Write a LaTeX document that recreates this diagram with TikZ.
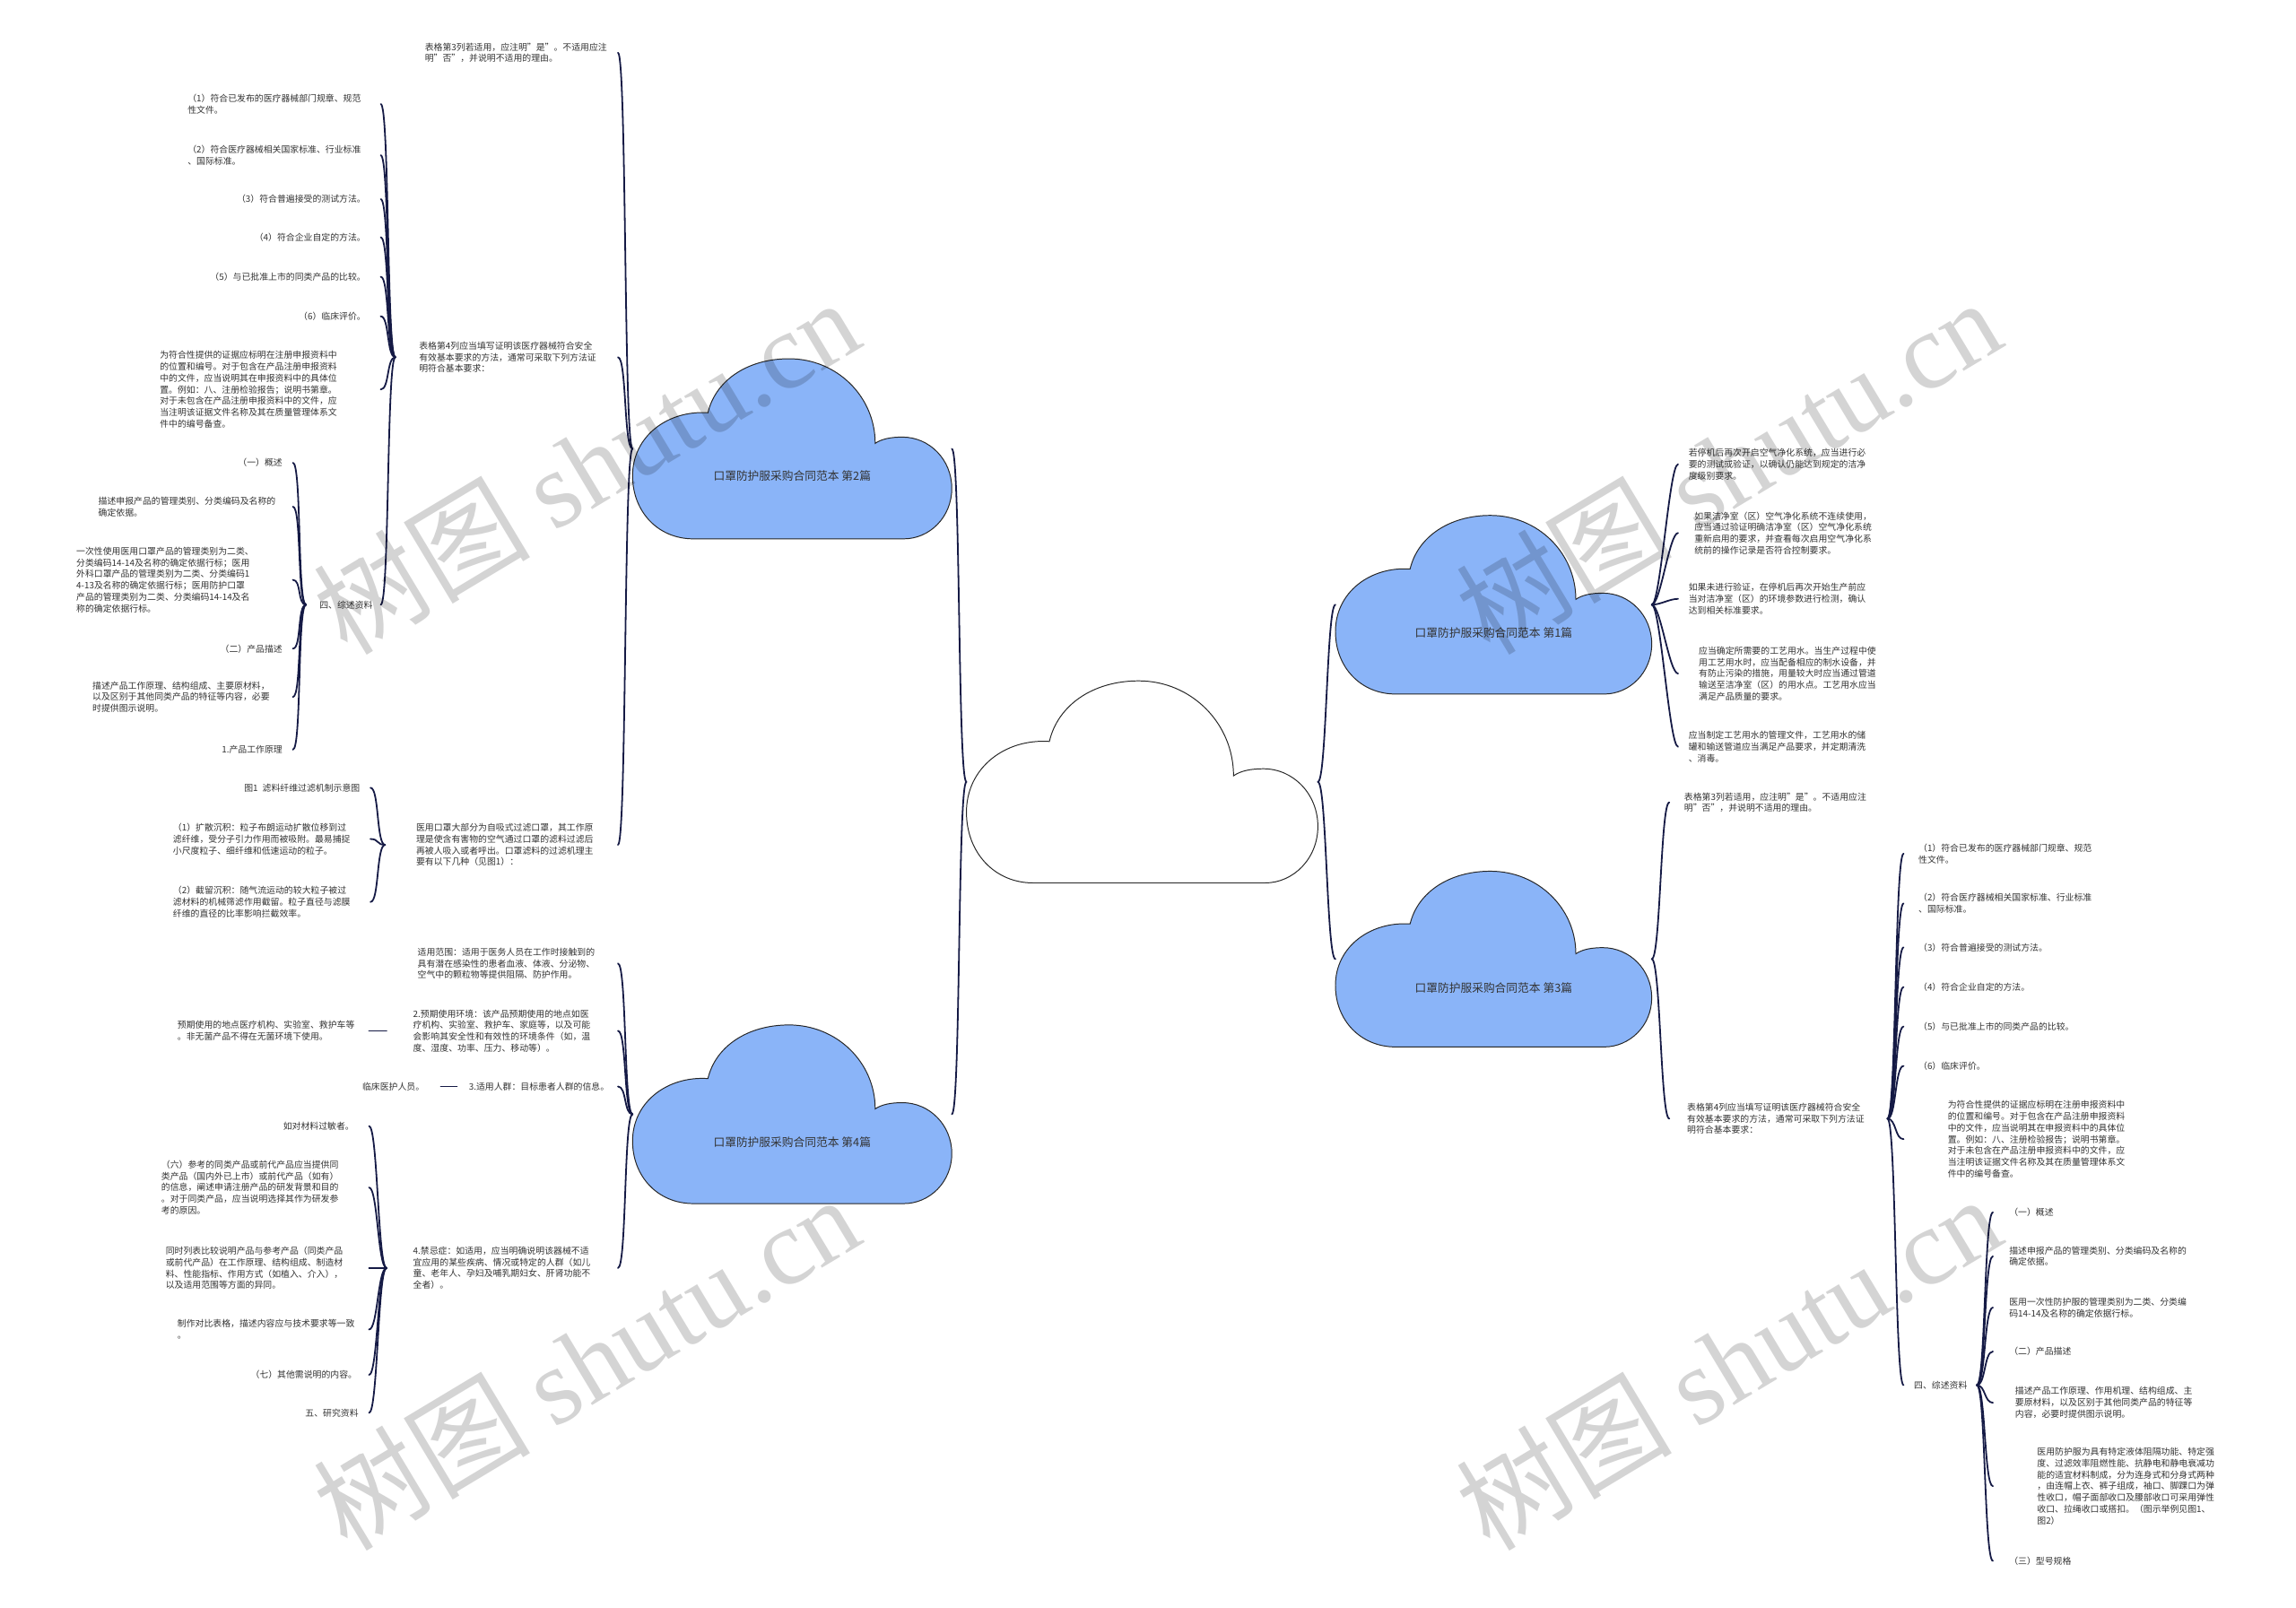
\documentclass[tikz,border=0pt]{standalone}
\usepackage{fontspec}
\setmainfont{Noto Sans CJK SC}
\newfontfamily\wmlatin{Liberation Serif}
\usetikzlibrary{calc}
\definecolor{txtc}{HTML}{333333}
\definecolor{connc}{HTML}{151A45}
\definecolor{cloudfill}{RGB}{138,180,248}
\newcommand\tfont{\fontsize{6.05pt}{7.8pt}\selectfont}
\newcommand\cfont{\fontsize{7.8pt}{9pt}\selectfont}
\newcommand\mycloud[5]{%
 \begin{scope}[shift={(#1,#2)}, x=#3pt, y=-#4pt]
  \draw[cloudline, fill=#5] (0.19,1) .. controls (0.08,1) and (0,0.85) .. (0,0.65)
   .. controls (0,0.43) and (0.11,0.285) .. (0.236,0.30)
   .. controls (0.26,0.12) and (0.36,0) .. (0.49,0)
   .. controls (0.64,0) and (0.76,0.21) .. (0.76,0.47)
   .. controls (0.78,0.445) and (0.81,0.435) .. (0.845,0.435)
   .. controls (0.93,0.435) and (1,0.56) .. (1,0.72)
   .. controls (1,0.88) and (0.93,1) .. (0.85,1) -- cycle;
 \end{scope}}
\newcommand\linkL[3]{\draw[conn] (#1) .. controls +(-6,0) and +(6,0) .. (#2 -| #3);}
\newcommand\linkR[3]{\draw[conn] (#1) .. controls +(6,0) and +(-6,0) .. (#2 -| #3);}
\begin{document}
\begin{tikzpicture}[x=1pt,y=-1pt,
  txt/.style={inner sep=0pt, align=left, font=\tfont, text=txtc},
  conn/.style={draw=connc, line width=1.1pt, line cap=round},
  cloudline/.style={draw=black!85, line width=0.6pt},
  cloudbox/.style={inner sep=0pt, outer sep=0pt, draw=none, anchor=north west},
  clabel/.style={inner sep=0pt, font=\cfont, text=txtc},
  wm/.style={inner sep=0pt, rotate=31, text=black, text opacity=0.17, font=\fontsize{74pt}{74pt}\selectfont}]
\fill[white] (0,0) rectangle (1568,1098);
\useasboundingbox (0,0) rectangle (1568,1098);

% cloud boxes
\node[cloudbox, minimum width=240pt, minimum height=138pt] (c0) at (660,465) {};
\node[cloudbox, minimum width=216pt, minimum height=122pt] (c1) at (912,352) {};
\node[cloudbox, minimum width=218pt, minimum height=123pt] (c2) at (432,245) {};
\node[cloudbox, minimum width=216pt, minimum height=120pt] (c3) at (912,595) {};
\node[cloudbox, minimum width=218pt, minimum height=122pt] (c4) at (432,700) {};

% ---------- cloud 2 branch ----------
\node[txt, anchor=west] (n2a) at (290,36) {表格第3列若适用，应注明"是"。不适用应注\\明"否"，并说明不适用的理由。};
\node[txt, anchor=west] (n2b) at (286,244) {表格第4列应当填写证明该医疗器械符合安全\\有效基本要求的方法，通常可采取下列方法证\\明符合基本要求：};
\node[txt, anchor=west] (n2b1) at (128,71) {（1）符合已发布的医疗器械部门规章、规范\\性文件。};
\node[txt, anchor=west] (n2b2) at (128,106) {（2）符合医疗器械相关国家标准、行业标准\\、国际标准。};
\node[txt, anchor=east] (n2b3) at (250,136) {（3）符合普遍接受的测试方法。};
\node[txt, anchor=east] (n2b4) at (250,162) {（4）符合企业自定的方法。};
\node[txt, anchor=east] (n2b5) at (250,189) {（5）与已批准上市的同类产品的比较。};
\node[txt, anchor=east] (n2b6) at (250,216) {（6）临床评价。};
\node[txt, anchor=west] (n2b7) at (109,266) {为符合性提供的证据应标明在注册申报资料中\\的位置和编号。对于包含在产品注册申报资料\\中的文件，应当说明其在申报资料中的具体位\\置。例如：八、注册检验报告；说明书第章。\\对于未包含在产品注册申报资料中的文件，应\\当注明该证据文件名称及其在质量管理体系文\\件中的编号备查。};
\node[txt, anchor=west] (n2b8) at (218,413) {四、综述资料};
\node[txt, anchor=east] (n2c1) at (193,316) {（一）概述};
\node[txt, anchor=west] (n2c2) at (67,346) {描述申报产品的管理类别、分类编码及名称的\\确定依据。};
\node[txt, anchor=west] (n2c3) at (52,396) {一次性使用医用口罩产品的管理类别为二类、\\分类编码14-14及名称的确定依据行标；医用\\外科口罩产品的管理类别为二类、分类编码1\\4-13及名称的确定依据行标；医用防护口罩\\产品的管理类别为二类、分类编码14-14及名\\称的确定依据行标。};
\node[txt, anchor=east] (n2c4) at (193,443) {（二）产品描述};
\node[txt, anchor=west] (n2c5) at (63,476) {描述产品工作原理、结构组成、主要原材料，\\以及区别于其他同类产品的特征等内容，必要\\时提供图示说明。};
\node[txt, anchor=east] (n2c6) at (193,512) {1.产品工作原理};
\node[txt, anchor=west] (n2d) at (284,577) {医用口罩大部分为自吸式过滤口罩，其工作原\\理是使含有害物的空气通过口罩的滤料过滤后\\再被人吸入或者呼出。口罩滤料的过滤机理主\\要有以下几种（见图1）：};
\node[txt, anchor=east] (n2d1) at (246,538) {图1\enspace 滤料纤维过滤机制示意图};
\node[txt, anchor=west] (n2d2) at (118,573) {（1）扩散沉积：粒子布朗运动扩散位移到过\\滤纤维，受分子引力作用而被吸附。最易捕捉\\小尺度粒子、细纤维和低速运动的粒子。};
\node[txt, anchor=west] (n2d3) at (118,616) {（2）截留沉积：随气流运动的较大粒子被过\\滤材料的机械筛滤作用截留。粒子直径与滤膜\\纤维的直径的比率影响拦截效率。};

% ---------- cloud 4 branch ----------
\node[txt, anchor=west] (n4a) at (285,658) {适用范围：适用于医务人员在工作时接触到的\\具有潜在感染性的患者血液、体液、分泌物、\\空气中的颗粒物等提供阻隔、防护作用。};
\node[txt, anchor=west] (n4b) at (282,704) {2.预期使用环境：该产品预期使用的地点如医\\疗机构、实验室、救护车、家庭等，以及可能\\会影响其安全性和有效性的环境条件（如，温\\度、湿度、功率、压力、移动等）。};
\node[txt, anchor=west] (n4b1) at (121,704) {预期使用的地点医疗机构、实验室、救护车等\\。非无菌产品不得在无菌环境下使用。};
\node[txt, anchor=west] (n4c) at (320,742) {3.适用人群：目标患者人群的信息。};
\node[txt, anchor=east] (n4c1) at (290,742) {临床医护人员。};
\node[txt, anchor=west] (n4d) at (282,866) {4.禁忌症：如适用，应当明确说明该器械不适\\宜应用的某些疾病、情况或特定的人群（如儿\\童、老年人、孕妇及哺乳期妇女、肝肾功能不\\全者）。};
\node[txt, anchor=east] (n4d1) at (242,769) {如对材料过敏者。};
\node[txt, anchor=west] (n4d2) at (110,811) {（六）参考的同类产品或前代产品应当提供同\\类产品（国内外已上市）或前代产品（如有）\\的信息，阐述申请注册产品的研发背景和目的\\。对于同类产品，应当说明选择其作为研发参\\考的原因。};
\node[txt, anchor=west] (n4d3) at (113,866) {同时列表比较说明产品与参考产品（同类产品\\或前代产品）在工作原理、结构组成、制造材\\料、性能指标、作用方式（如植入、介入），\\以及适用范围等方面的异同。};
\node[txt, anchor=west] (n4d4) at (121,908) {制作对比表格，描述内容应与技术要求等一致\\。};
\node[txt, anchor=east] (n4d5) at (244,939) {（七）其他需说明的内容。};
\node[txt, anchor=east] (n4d6) at (245,965) {五、研究资料};

% ---------- cloud 1 branch ----------
\node[txt, anchor=west] (n1a) at (1153,317) {若停机后再次开启空气净化系统，应当进行必\\要的测试或验证，以确认仍能达到规定的洁净\\度级别要求。};
\node[txt, anchor=west] (n1b) at (1157,364) {如果洁净室（区）空气净化系统不连续使用，\\应当通过验证明确洁净室（区）空气净化系统\\重新启用的要求，并查看每次启用空气净化系\\统前的操作记录是否符合控制要求。};
\node[txt, anchor=west] (n1c) at (1153,409) {如果未进行验证，在停机后再次开始生产前应\\当对洁净室（区）的环境参数进行检测，确认\\达到相关标准要求。};
\node[txt, anchor=west] (n1d) at (1160,460) {应当确定所需要的工艺用水。当生产过程中使\\用工艺用水时，应当配备相应的制水设备，并\\有防止污染的措施，用量较大时应当通过管道\\输送至洁净室（区）的用水点。工艺用水应当\\满足产品质量的要求。};
\node[txt, anchor=west] (n1e) at (1153,510) {应当制定工艺用水的管理文件，工艺用水的储\\罐和输送管道应当满足产品要求，并定期清洗\\、消毒。};

% ---------- cloud 3 branch ----------
\node[txt, anchor=west] (n3a) at (1150,548) {表格第3列若适用，应注明"是"。不适用应注\\明"否"，并说明不适用的理由。};
\node[txt, anchor=west] (n3b) at (1152,764) {表格第4列应当填写证明该医疗器械符合安全\\有效基本要求的方法，通常可采取下列方法证\\明符合基本要求：};
\node[txt, anchor=west] (n3b1) at (1310,583) {（1）符合已发布的医疗器械部门规章、规范\\性文件。};
\node[txt, anchor=west] (n3b2) at (1310,617) {（2）符合医疗器械相关国家标准、行业标准\\、国际标准。};
\node[txt, anchor=west] (n3b3) at (1310,647) {（3）符合普遍接受的测试方法。};
\node[txt, anchor=west] (n3b4) at (1310,674) {（4）符合企业自定的方法。};
\node[txt, anchor=west] (n3b5) at (1310,701) {（5）与已批准上市的同类产品的比较。};
\node[txt, anchor=west] (n3b6) at (1310,728) {（6）临床评价。};
\node[txt, anchor=west] (n3b7) at (1330,778) {为符合性提供的证据应标明在注册申报资料中\\的位置和编号。对于包含在产品注册申报资料\\中的文件，应当说明其在申报资料中的具体位\\置。例如：八、注册检验报告；说明书第章。\\对于未包含在产品注册申报资料中的文件，应\\当注明该证据文件名称及其在质量管理体系文\\件中的编号备查。};
\node[txt, anchor=west] (n3b8) at (1307,946) {四、综述资料};
\node[txt, anchor=west] (n3c1) at (1372,828) {（一）概述};
\node[txt, anchor=west] (n3c2) at (1372,858) {描述申报产品的管理类别、分类编码及名称的\\确定依据。};
\node[txt, anchor=west] (n3c3) at (1372,893) {医用一次性防护服的管理类别为二类、分类编\\码14-14及名称的确定依据行标。};
\node[txt, anchor=west] (n3c4) at (1372,923) {（二）产品描述};
\node[txt, anchor=west] (n3c5) at (1376,958) {描述产品工作原理、作用机理、结构组成、主\\要原材料，以及区别于其他同类产品的特征等\\内容，必要时提供图示说明。};
\node[txt, anchor=west] (n3c6) at (1391,1015) {医用防护服为具有特定液体阻隔功能、特定强\\度、过滤效率阻燃性能、抗静电和静电衰减功\\能的适宜材料制成，分为连身式和分身式两种\\，由连帽上衣、裤子组成，袖口、脚踝口为弹\\性收口，帽子面部收口及腰部收口可采用弹性\\收口、拉绳收口或搭扣。（图示举例见图1、\\图2）};
\node[txt, anchor=west] (n3c7) at (1372,1066) {（三）型号规格};

% ---------- junctions and columns ----------
\coordinate (k2) at (422,0);
\coordinate (k4) at (422,0);
\coordinate (k1) at (1146,0);
\coordinate (k3) at (1140,0);
\coordinate (j2b) at (270,244);  \coordinate (k2b) at (260,0);
\coordinate (j2b8) at (209,413); \coordinate (k2b8) at (200,0);
\coordinate (j2d) at (263,577);  \coordinate (k2d) at (253,0);
\coordinate (j4b) at (264,704);  \coordinate (k4b) at (252,0);
\coordinate (j4c) at (312,742);  \coordinate (k4c) at (301,0);
\coordinate (j4d) at (264,866);  \coordinate (k4d) at (252,0);
\coordinate (j3b) at (1289,764); \coordinate (k3b) at (1300,0);
\coordinate (j3b8) at (1350,946); \coordinate (k3b8) at (1361,0);

% ---------- connectors ----------
\linkL{c0.west}{c2.east}{c2.east}
\linkL{c0.west}{c4.east}{c4.east}
\linkR{c0.east}{c1.west}{c1.west}
\linkR{c0.east}{c3.west}{c3.west}

\foreach \n in {n2a,n2b,n2d} {\linkL{c2.west}{\n}{k2}}
\foreach \n in {n2b1,n2b2,n2b3,n2b4,n2b5,n2b6,n2b7,n2b8} {\linkL{j2b}{\n}{k2b}}
\foreach \n in {n2c1,n2c2,n2c3,n2c4,n2c5,n2c6} {\linkL{j2b8}{\n}{k2b8}}
\foreach \n in {n2d1,n2d2,n2d3} {\linkL{j2d}{\n}{k2d}}

\foreach \n in {n4a,n4b,n4c,n4d} {\linkL{c4.west}{\n}{k4}}
\linkL{j4b}{n4b1}{k4b}
\linkL{j4c}{n4c1}{k4c}
\foreach \n in {n4d1,n4d2,n4d3,n4d4,n4d5,n4d6} {\linkL{j4d}{\n}{k4d}}

\foreach \n in {n1a,n1b,n1c,n1d,n1e} {\linkR{c1.east}{\n}{k1}}
\foreach \n in {n3a,n3b} {\linkR{c3.east}{\n}{k3}}
\foreach \n in {n3b1,n3b2,n3b3,n3b4,n3b5,n3b6,n3b7,n3b8} {\linkR{j3b}{\n}{k3b}}
\foreach \n in {n3c1,n3c2,n3c3,n3c4,n3c5,n3c6,n3c7} {\linkR{j3b8}{\n}{k3b8}}

% ---------- cloud shapes ----------
\mycloud{660}{465}{240}{138}{white}
\mycloud{912}{352}{216}{122}{cloudfill}
\mycloud{432}{245}{218}{123}{cloudfill}
\mycloud{912}{595}{216}{120}{cloudfill}
\mycloud{432}{700}{218}{122}{cloudfill}
\node[clabel] (c1t) at (1020,432) {口罩防护服采购合同范本 第1篇};
\node[clabel] (c2t) at (541,325) {口罩防护服采购合同范本 第2篇};
\node[clabel] (c3t) at (1020,675) {口罩防护服采购合同范本 第3篇};
\node[clabel] (c4t) at (541,780) {口罩防护服采购合同范本 第4篇};

% ---------- watermarks ----------
\node[wm] (wm1) at (400,318) {树图 {\wmlatin shutu.cn}};
\node[wm] (wm2) at (1180,318) {树图 {\wmlatin shutu.cn}};
\node[wm] (wm3) at (400,930) {树图 {\wmlatin shutu.cn}};
\node[wm] (wm4) at (1180,930) {树图 {\wmlatin shutu.cn}};
\end{tikzpicture}
\end{document}
